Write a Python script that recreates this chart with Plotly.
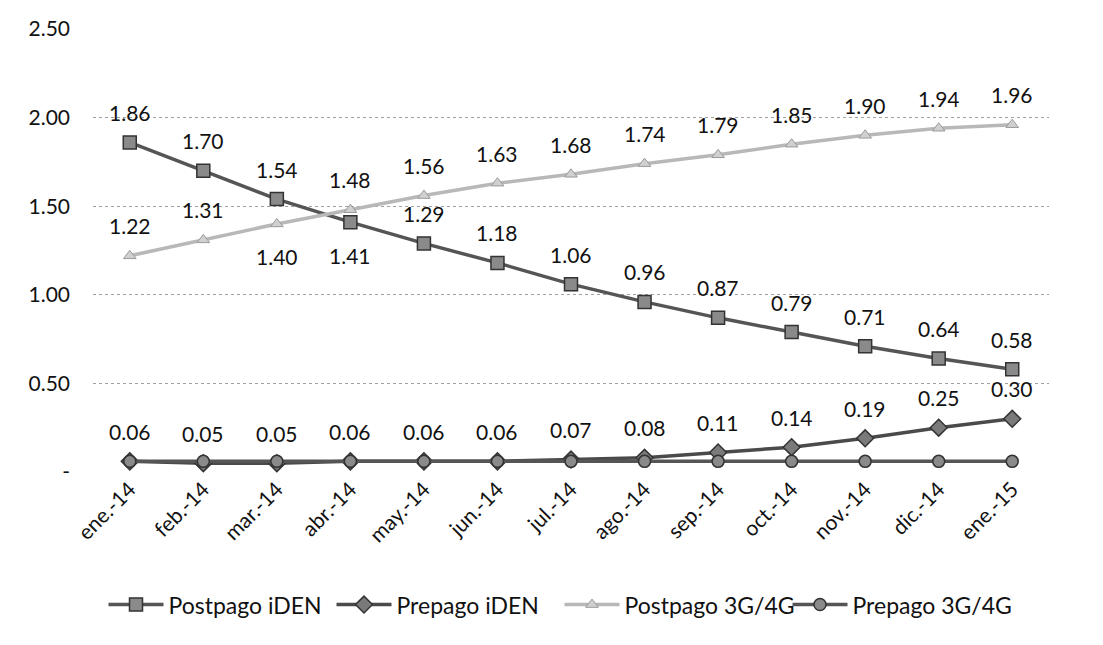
import plotly.graph_objects as go

categories = ["ene.-14", "feb.-14", "mar.-14", "abr.-14", "may.-14", "jun.-14", "jul.-14",
              "ago.-14", "sep.-14", "oct.-14", "nov.-14", "dic.-14", "ene.-15"]
postpago_iden = [1.86, 1.70, 1.54, 1.41, 1.29, 1.18, 1.06, 0.96, 0.87, 0.79, 0.71, 0.64, 0.58]
prepago_iden = [0.06, 0.05, 0.05, 0.06, 0.06, 0.06, 0.07, 0.08, 0.11, 0.14, 0.19, 0.25, 0.30]
postpago_3g4g = [1.22, 1.31, 1.40, 1.48, 1.56, 1.63, 1.68, 1.74, 1.79, 1.85, 1.90, 1.94, 1.96]
prepago_3g4g = [0.06, 0.06, 0.06, 0.06, 0.06, 0.06, 0.06, 0.06, 0.06, 0.06, 0.06, 0.06, 0.06]

ytick_vals = [0, 0.5, 1.0, 1.5, 2.0, 2.5]
ytick_text = ["-", "0.50", "1.00", "1.50", "2.00", "2.50"]

# label placement: +1 above, -1 below
side_postpago_iden = [1, 1, 1, -1, 1, 1, 1, 1, 1, 1, 1, 1, 1]
side_postpago_3g4g = [1, 1, -1, 1, 1, 1, 1, 1, 1, 1, 1, 1, 1]
side_prepago_iden = [1] * 13

FONT = "Lato"
FS = 21
x = list(range(len(categories)))

fig = go.Figure()
fig.add_trace(go.Scatter(
    x=x, y=postpago_iden, name="Postpago iDEN", mode="lines+markers",
    line=dict(color="#555555", width=3.5),
    marker=dict(symbol="square", size=13, color="#8a8a8a", line=dict(color="#333333", width=1.5)),
    cliponaxis=False))
fig.add_trace(go.Scatter(
    x=x, y=prepago_iden, name="Prepago iDEN", mode="lines+markers",
    line=dict(color="#4a4a4a", width=3.5),
    marker=dict(symbol="diamond", size=13, color="#7a7a7a", line=dict(color="#333333", width=1.5)),
    cliponaxis=False))
fig.add_trace(go.Scatter(
    x=x, y=postpago_3g4g, name="Postpago 3G/4G", mode="lines+markers",
    line=dict(color="#b8b8b8", width=3.5),
    marker=dict(symbol="triangle-up", size=11, color="#d0d0d0", line=dict(color="#9a9a9a", width=1)),
    cliponaxis=False))
fig.add_trace(go.Scatter(
    x=x, y=prepago_3g4g, name="Prepago 3G/4G", mode="lines+markers",
    line=dict(color="#555555", width=3.5),
    marker=dict(symbol="circle", size=12, color="#8a8a8a", line=dict(color="#333333", width=1.5)),
    cliponaxis=False))

annotations = []
for series, sides in ((postpago_iden, side_postpago_iden),
                      (postpago_3g4g, side_postpago_3g4g),
                      (prepago_iden, side_prepago_iden)):
    for xi, v, s in zip(x, series, sides):
        annotations.append(dict(
            x=xi, y=v, xref="x", yref="y", text=f"{v:.2f}", showarrow=False,
            xanchor="center", yanchor="middle", yshift=30 if s > 0 else -33,
            font=dict(family=FONT, size=FS, color="#111111")))

# the page body has an 8px margin, so the figure is offset by (8, 8) in the screenshot
fig.update_layout(
    width=1103, height=645,
    margin=dict(l=85, r=62, t=21, b=181, autoexpand=False),
    paper_bgcolor="white", plot_bgcolor="white",
    font=dict(family=FONT, size=FS, color="#111111"),
    showlegend=True,
    legend=dict(orientation="h", x=0.5, xanchor="center", xref="container",
                y=0.075, yanchor="middle", yref="container",
                font=dict(family=FONT, size=23, color="#111111"),
                itemwidth=55, entrywidth=158, entrywidthmode="pixels",
                traceorder="normal"),
    annotations=annotations,
)
fig.update_xaxes(
    tickvals=x, ticktext=categories, range=[-0.5, len(categories) - 0.5],
    tickangle=-45, showgrid=False, zeroline=False, showline=False, automargin=False,
    tickfont=dict(family=FONT, size=FS, color="#111111"))
fig.update_yaxes(
    range=[0, 2.5], tickvals=ytick_vals, ticktext=ytick_text,
    showgrid=True, gridcolor="#a0a0a0", griddash="dot", gridwidth=1,
    zeroline=False, showline=False, ticklabelstandoff=22, automargin=False,
    tickfont=dict(family=FONT, size=FS, color="#111111"))

fig.write_html("out.html")
